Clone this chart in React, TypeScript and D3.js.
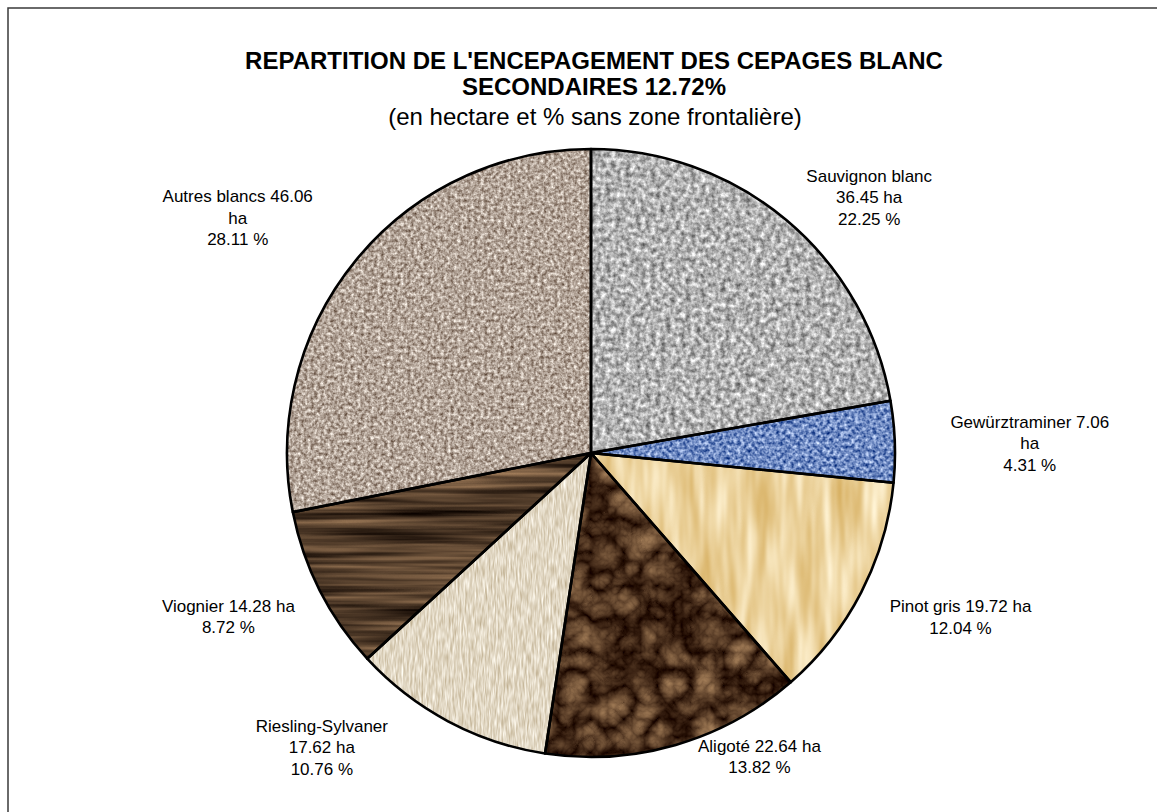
import React from "react";
import * as d3 from "d3";

const categories = ["Sauvignon blanc", "Gewürztraminer", "Pinot gris", "Aligoté", "Riesling-Sylvaner", "Viognier", "Autres blancs"];
const hectares = [36.45, 7.06, 19.72, 22.64, 17.62, 14.28, 46.06];
const percents = ["22.25 %", "4.31 %", "12.04 %", "13.82 %", "10.76 %", "8.72 %", "28.11 %"];
const labelLines = [
  ["Sauvignon blanc", "36.45 ha", "22.25 %"],
  ["Gewürztraminer 7.06", "ha", "4.31 %"],
  ["Pinot gris 19.72 ha", "12.04 %"],
  ["Aligoté 22.64 ha", "13.82 %"],
  ["Riesling-Sylvaner", "17.62 ha", "10.76 %"],
  ["Viognier 14.28 ha", "8.72 %"],
  ["Autres blancs 46.06", "ha", "28.11 %"],
];
const titleLines = ["REPARTITION DE L'ENCEPAGEMENT DES CEPAGES BLANC", "SECONDAIRES 12.72%"];
const subtitle = "(en hectare et % sans zone frontalière)";

// layout (not data)
const W = 1157, H = 812;
const CX = 591, CY = 453, R = 304;
const LABEL_R = 364;
const labelNudge: [number, number][] = [[44, 23], [75, 4], [46, -3], [67, -46], [-98, -27], [-38, -1], [-72, -4]];

type Tex = { type: "fractalNoise" | "turbulence"; freq: string; oct: number; seed: number; c1: string; c2: string; gain: number };
const textures: Tex[] = [
  { type: "fractalNoise", freq: "0.2", oct: 3, seed: 3, c1: "#747474", c2: "#f0f0f0", gain: 1.9 },
  { type: "fractalNoise", freq: "0.28 0.28", oct: 2, seed: 7, c1: "#2a4c94", c2: "#b4c8f0", gain: 2.2 },
  { type: "fractalNoise", freq: "0.09 0.012", oct: 2, seed: 11, c1: "#dcb870", c2: "#fbecc8", gain: 1.8 },
  { type: "turbulence", freq: "0.03", oct: 4, seed: 5, c1: "#2a1408", c2: "#b89066", gain: 1.4 },
  { type: "fractalNoise", freq: "0.55 0.08", oct: 2, seed: 9, c1: "#cbbda2", c2: "#f7f1e4", gain: 2.0 },
  { type: "fractalNoise", freq: "0.004 0.12", oct: 3, seed: 13, c1: "#1a0f08", c2: "#8a6a4c", gain: 2.3 },
  { type: "fractalNoise", freq: "0.3", oct: 3, seed: 17, c1: "#7d6a5c", c2: "#e8ded4", gain: 2.0 },
];

function matrix(c1: string, c2: string, gain: number) {
  const a = d3.rgb(c1), b = d3.rgb(c2);
  const row = (x: number, y: number) => {
    const lo = x / 255, hi = y / 255;
    const k = (hi - lo) * gain;
    const off = lo + (hi - lo) * (0.5 - 0.5 * gain);
    return `${k} 0 0 0 ${off}`;
  };
  return `${row(a.r, b.r)} ${row(a.g, b.g)} ${row(a.b, b.b)} 0 0 0 0 1`;
}

export default function App() {
  const pie = d3.pie<number>().sort(null).value((d) => d);
  const arcs = pie(hectares);
  const arc = d3.arc<d3.PieArcDatum<number>>().innerRadius(0).outerRadius(R);
  const font = "'Liberation Sans', Arial, sans-serif";
  const fs = 17, lh = 21.5;

  return (
    <svg width={W} height={H} style={{ position: "absolute", left: 0, top: 0, background: "#fff" }} fontFamily={font}>
      <defs>
        {textures.map((t, i) => (
          <filter key={i} id={`tex${i}`} filterUnits="userSpaceOnUse" x={-CX} y={-CY} width={W} height={H} colorInterpolationFilters="sRGB">
            <feTurbulence type={t.type} baseFrequency={t.freq} numOctaves={t.oct} seed={t.seed} result="n" />
            <feColorMatrix in="n" type="matrix" values={matrix(t.c1, t.c2, t.gain)} result="c" />
            <feComposite in="c" in2="SourceAlpha" operator="in" />
          </filter>
        ))}
      </defs>
      <rect x={8} y={8} width={1300} height={1000} fill="#fff" stroke="#3a3a3a" strokeWidth={1.5} />
      <g textAnchor="middle" fill="#000">
        <text x={594} y={69} fontSize={24} fontWeight="bold">{titleLines[0]}</text>
        <text x={594} y={95} fontSize={24} fontWeight="bold">{titleLines[1]}</text>
        <text x={595} y={125} fontSize={24}>{subtitle}</text>
      </g>
      <g transform={`translate(${CX},${CY})`}>
        {arcs.map((a, i) => (
          <path key={`f${i}`} d={arc(a) || ""} fill="#888" filter={`url(#tex${i})`} />
        ))}
        {arcs.map((a, i) => (
          <path key={`s${i}`} d={arc(a) || ""} fill="none" stroke="#000" strokeWidth={2.6} strokeLinejoin="round" />
        ))}
      </g>
      <g textAnchor="middle" fontSize={fs} fill="#000">
        {arcs.map((a, i) => {
          const m = (a.startAngle + a.endAngle) / 2;
          const x = CX + LABEL_R * Math.sin(m) + labelNudge[i][0];
          const y = CY - LABEL_R * Math.cos(m) + labelNudge[i][1];
          const lines = labelLines[i];
          const y0 = y - ((lines.length - 1) / 2) * lh + 0.35 * fs;
          return (
            <text key={categories[i]} x={x} y={y0} data-pct={percents[i]}>
              {lines.map((l, j) => (
                <tspan key={j} x={x} y={y0 + j * lh}>{l}</tspan>
              ))}
            </text>
          );
        })}
      </g>
    </svg>
  );
}
